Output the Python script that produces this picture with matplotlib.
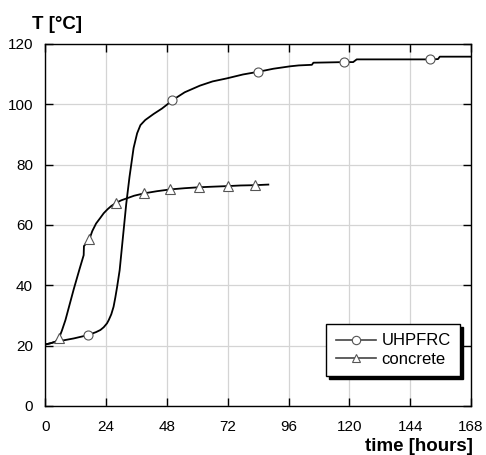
import numpy as np
import matplotlib.pyplot as plt

plt.rcParams['font.family'] = ['Liberation Sans', 'DejaVu Sans']

# UHPFRC curve (time in hours, temperature in C)
t_uhp = [0, 2, 4, 8, 11.2, 16.8, 20, 21.7, 23, 24.3, 25, 26, 26.9, 27.6, 28.3, 29.3, 30.6, 31.9, 33.2, 34.8,
         36.2, 37.5, 39.4, 42.7, 46, 48, 50, 55, 61, 66, 71.6, 78, 84.1, 90, 96.6, 100, 105.2, 105.8,
         112, 118, 121.5, 122.9, 130, 140, 152, 155, 155.7, 168]
T_uhp = [20.4, 20.8, 21.3, 21.9, 22.4, 23.5, 24.5, 25.2, 26.1, 27.4, 28.5, 30.4, 32.9, 36, 39.5, 45, 56, 67, 76, 85.5,
         90.4, 93.1, 94.8, 96.8, 98.6, 99.9, 101.3, 104, 106.2, 107.6, 108.6, 109.9, 110.8, 111.8, 112.6, 112.9, 113.1, 113.8,
         113.9, 114, 114, 114.9, 114.9, 114.9, 114.9, 115, 115.8, 115.8]
t_uhp_mk = [16.8, 50, 84.1, 118, 152]
T_uhp_mk = [23.5, 101.5, 110.8, 114, 114.9]

# concrete curve
t_con = [0, 2, 3.9, 5.3, 6.5, 7.9, 9.5, 11.2, 13.5, 15.1, 15.2, 17.35, 18.5, 20, 21.7, 23, 24.5, 26, 28, 30, 32,
         35, 39, 44, 49.3, 55, 60.5, 66, 72, 77, 82.8, 88]
T_con = [20.4, 20.8, 21.3, 22.4, 25, 28.5, 33.5, 38.8, 45.5, 50, 53, 55.3, 58, 60.5, 62.4, 63.9, 65.2, 66.3, 67.4, 68.2, 68.8,
         69.7, 70.5, 71.2, 71.8, 72.2, 72.5, 72.7, 72.9, 73.1, 73.2, 73.4]
t_con_mk = [5.3, 17.35, 28, 39, 49.3, 60.5, 72, 82.8]
T_con_mk = [22.4, 55.3, 67.4, 70.5, 71.8, 72.5, 72.9, 73.2]

x_ticks = [0, 24, 48, 72, 96, 120, 144, 168]
y_ticks = [0, 20, 40, 60, 80, 100, 120]

fig = plt.figure(figsize=(4.86, 4.55), dpi=100)
ax = fig.add_axes([0.0935, 0.1077, 0.8755, 0.7956])

ax.plot(t_uhp, T_uhp, color='black', lw=1.3)
ax.plot(t_uhp_mk, T_uhp_mk, 'o', ms=6.5, mfc='white', mec='#555555', mew=0.8)
ax.plot(t_con, T_con, color='black', lw=1.3)
ax.plot(t_con_mk, T_con_mk, '^', ms=6.5, mfc='white', mec='#555555', mew=0.8)

# legend handles
h1, = ax.plot([], [], '-o', color='#444444', lw=1.2, ms=6, mfc='white', mec='#555555', mew=0.8)
h2, = ax.plot([], [], '-^', color='#444444', lw=1.2, ms=6, mfc='white', mec='#555555', mew=0.8)
leg = ax.legend([h1, h2], ['UHPFRC', 'concrete'], loc='lower right', bbox_to_anchor=(0.974, 0.083),
                borderaxespad=0, fontsize=12, frameon=True, fancybox=False,
                shadow={'color': 'black', 'alpha': 1},
                handlelength=2.4, handletextpad=0.35, borderpad=0.55, labelspacing=0.2, framealpha=1)
leg.get_frame().set_edgecolor('black')
leg.get_frame().set_linewidth(1.0)

ax.set_xlim(0, 168)
ax.set_ylim(0, 120)
ax.set_xticks(x_ticks)
ax.set_yticks(y_ticks)
ax.grid(True, color='#d4d4d4', lw=0.9)
ax.set_axisbelow(True)
ax.tick_params(direction='in', length=6, width=1, top=True, right=True, labelsize=11)
ax.tick_params(axis='x', pad=10)
ax.tick_params(axis='y', pad=9)
for s in ax.spines.values():
    s.set_linewidth(1.0)

fig.text(0.065, 0.928, 'T [°C]', fontsize=13.5, fontweight='bold', ha='left', va='bottom')
fig.text(0.973, 0.0, 'time [hours]', fontsize=13.5, fontweight='bold', ha='right', va='bottom')

plt.savefig('out.png', dpi=100)
